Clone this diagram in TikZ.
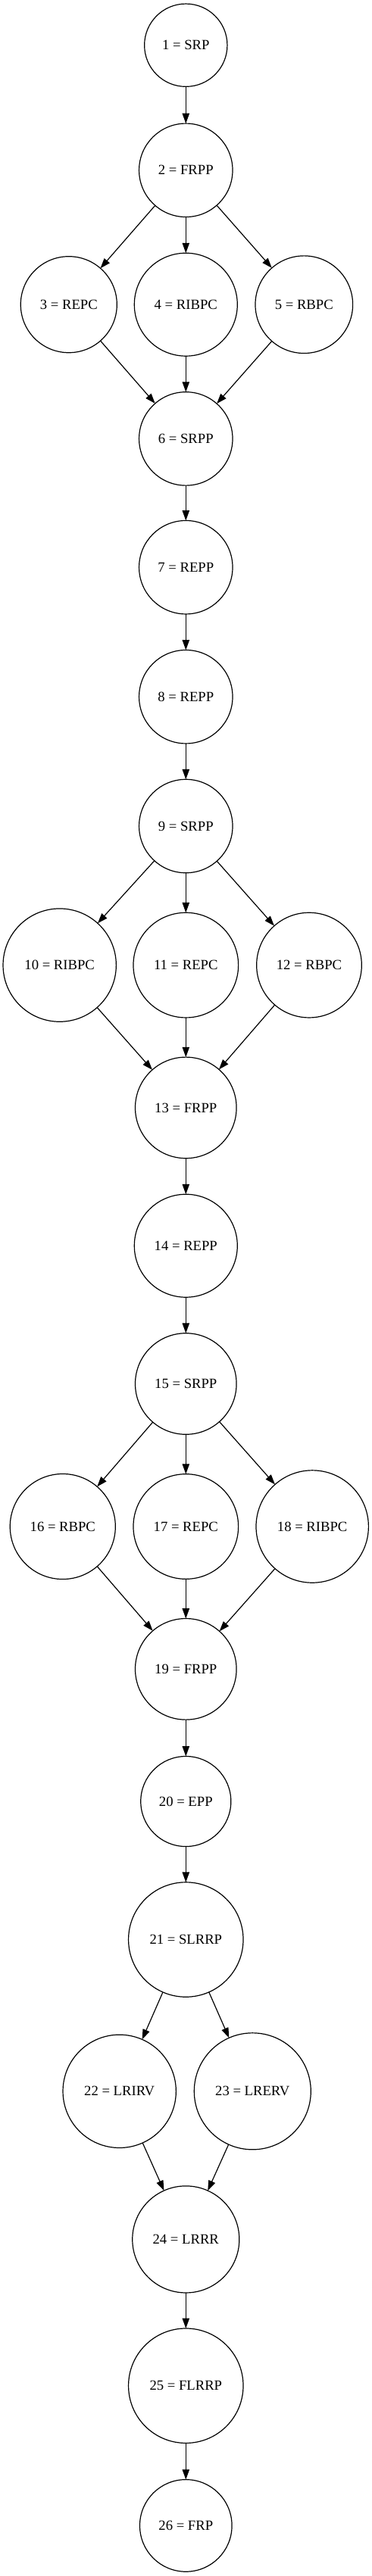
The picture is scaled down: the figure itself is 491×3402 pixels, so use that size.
\documentclass[tikz,border=0pt]{standalone}
\usepackage{fontspec}
\setmainfont{Liberation Serif}
\usetikzlibrary{arrows.meta}

\begin{document}
\begin{tikzpicture}[
    x=0.75pt, y=-0.75pt,
    every node/.style={font=\fontsize{14}{17}\selectfont},
    stage/.style={draw, circle, line width=0.9pt, inner sep=0pt, outer sep=0pt},
    flow/.style={-{Triangle[length=10pt, width=7pt]}, line width=0.9pt}
]
\useasboundingbox (0,0) rectangle (491,3402);
\node[stage, minimum size=82pt] (p1) at (245.3,59.7) {1 = SRP};
\node[stage, minimum size=92.6pt] (p2) at (245.3,224.8) {2 = FRPP};
\node[stage, minimum size=95.3pt] (p3) at (90.8,402.2) {3 = REPC};
\node[stage, minimum size=102pt] (p4) at (245.3,402.2) {4 = RIBPC};
\node[stage, minimum size=96.5pt] (p5) at (401.3,402.2) {5 = RBPC};
\node[stage, minimum size=92.6pt] (p6) at (245.3,579.4) {6 = SRPP};
\node[stage, minimum size=92.6pt] (p7) at (245.3,749.2) {7 = REPP};
\node[stage, minimum size=92.6pt] (p8) at (245.3,920.2) {8 = REPP};
\node[stage, minimum size=92.6pt] (p9) at (245.3,1091) {9 = SRPP};
\node[stage, minimum size=112pt] (p10) at (78.7,1274.6) {10 = RIBPC};
\node[stage, minimum size=104pt] (p11) at (245.3,1274.6) {11 = REPC};
\node[stage, minimum size=104pt] (p12) at (408,1274.6) {12 = RBPC};
\node[stage, minimum size=100.2pt] (p13) at (245.3,1462.9) {13 = FRPP};
\node[stage, minimum size=102pt] (p14) at (245.3,1645.2) {14 = REPP};
\node[stage, minimum size=100.2pt] (p15) at (245.3,1827.5) {15 = SRPP};
\node[stage, minimum size=104.3pt] (p16) at (82.8,2016) {16 = RBPC};
\node[stage, minimum size=104pt] (p17) at (245.3,2016) {17 = REPC};
\node[stage, minimum size=111.3pt] (p18) at (412.2,2016) {18 = RIBPC};
\node[stage, minimum size=100.2pt] (p19) at (245.3,2204.3) {19 = FRPP};
\node[stage, minimum size=89.3pt] (p20) at (245.3,2379) {20 = EPP};
\node[stage, minimum size=113.6pt] (p21) at (245.3,2561.5) {21 = SLRRP};
\node[stage, minimum size=112pt] (p22) at (157.7,2761.8) {22 = LRIRV};
\node[stage, minimum size=115.5pt] (p23) at (333.3,2761.8) {23 = LRERV};
\node[stage, minimum size=105.8pt] (p24) at (245.3,2957.4) {24 = LRRR};
\node[stage, minimum size=113.6pt] (p25) at (245.3,3150.7) {25 = FLRRP};
\node[stage, minimum size=91.2pt] (p26) at (245.3,3335.4) {26 = FRP};
\draw[flow] (p1) -- (p2);
\draw[flow] (p2) -- (p3);
\draw[flow] (p2) -- (p4);
\draw[flow] (p2) -- (p5);
\draw[flow] (p3) -- (p6);
\draw[flow] (p4) -- (p6);
\draw[flow] (p5) -- (p6);
\draw[flow] (p6) -- (p7);
\draw[flow] (p7) -- (p8);
\draw[flow] (p8) -- (p9);
\draw[flow] (p9) -- (p10);
\draw[flow] (p9) -- (p11);
\draw[flow] (p9) -- (p12);
\draw[flow] (p10) -- (p13);
\draw[flow] (p11) -- (p13);
\draw[flow] (p12) -- (p13);
\draw[flow] (p13) -- (p14);
\draw[flow] (p14) -- (p15);
\draw[flow] (p15) -- (p16);
\draw[flow] (p15) -- (p17);
\draw[flow] (p15) -- (p18);
\draw[flow] (p16) -- (p19);
\draw[flow] (p17) -- (p19);
\draw[flow] (p18) -- (p19);
\draw[flow] (p19) -- (p20);
\draw[flow] (p20) -- (p21);
\draw[flow] (p21) -- (p22);
\draw[flow] (p21) -- (p23);
\draw[flow] (p22) -- (p24);
\draw[flow] (p23) -- (p24);
\draw[flow] (p24) -- (p25);
\draw[flow] (p25) -- (p26);
\end{tikzpicture}
\end{document}
